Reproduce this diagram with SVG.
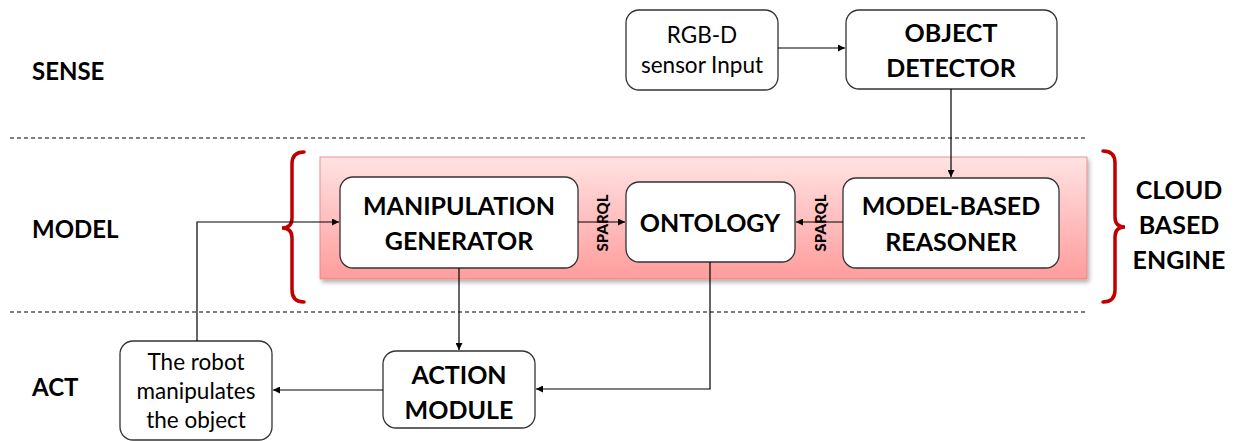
<svg xmlns="http://www.w3.org/2000/svg" width="1237" height="441" viewBox="0 0 1237 441">
<defs>
<linearGradient id="pink" x1="0" y1="0" x2="0" y2="1">
<stop offset="0" stop-color="#FFE3E3"/>
<stop offset="1" stop-color="#FF9C9C"/>
</linearGradient>
<filter id="sh" x="-5%" y="-10%" width="110%" height="125%">
<feDropShadow dx="2" dy="3" stdDeviation="2" flood-color="#000" flood-opacity="0.3"/>
</filter>
<marker id="ah" viewBox="0 0 10 10" refX="10" refY="5" markerWidth="7" markerHeight="7" orient="auto" markerUnits="userSpaceOnUse">
<path d="M0,0 L10,5 L0,10 z" fill="#000"/>
</marker>
</defs>
<style>
.box{fill:#fff;stroke:#333;stroke-width:1.3}
.b{font-family:Lato,"Liberation Sans",sans-serif;font-weight:bold;font-size:25px;fill:#000;text-anchor:middle}
.n{font-family:Lato,"Liberation Sans",sans-serif;font-size:22.5px;fill:#000;text-anchor:middle}
.lbl{font-family:Lato,"Liberation Sans",sans-serif;font-weight:bold;font-size:24px;fill:#000}
.sq{font-family:Lato,"Liberation Sans",sans-serif;font-weight:900;font-size:15px;fill:#000;text-anchor:middle}
.c{fill:none;stroke:#000;stroke-width:1.2}
.dash{stroke:#000;stroke-width:1.2;stroke-dasharray:4 3}
.br{fill:none;stroke:#C00000;stroke-width:3.5;stroke-linecap:round}
</style>
<rect width="1237" height="441" fill="#fff"/>
<g id="layers">
<text class="lbl" x="32" y="80">SENSE</text>
<text class="lbl" x="32" y="238">MODEL</text>
<text class="lbl" x="32" y="396">ACT</text>
<line class="dash" x1="10" y1="138" x2="1085" y2="138"/>
<line class="dash" x1="10" y1="312" x2="1085" y2="312"/>
</g>
<g id="cloud">
<rect x="320" y="157" width="767" height="122" fill="url(#pink)" stroke="#E08080" stroke-width="0.8" filter="url(#sh)"/>
<path class="br" d="M304,152 Q292,152 292,164 L292,218 Q292,228 282,228 Q292,228 292,238 L292,290 Q292,302 304,302"/>
<path class="br" d="M1103,151 Q1115,151 1115,163 L1115,217 Q1115,227 1125,227 Q1115,227 1115,237 L1115,290 Q1115,302 1103,302"/>
<text class="b" x="1179" y="199">CLOUD</text>
<text class="b" x="1179" y="234">BASED</text>
<text class="b" x="1179" y="269">ENGINE</text>
</g>
<g id="rgbd">
<rect class="box" x="626" y="10" width="152" height="80" rx="13"/>
<text class="n" x="702" y="43">RGB-D</text>
<text class="n" x="702" y="73">sensor Input</text>
</g>
<g id="detector">
<rect class="box" x="846" y="10" width="211" height="79" rx="13"/>
<text class="b" x="951" y="42">OBJECT</text>
<text class="b" x="951" y="77">DETECTOR</text>
</g>
<g id="manip">
<rect class="box" x="340" y="177" width="238" height="91" rx="13"/>
<text class="b" x="459" y="215">MANIPULATION</text>
<text class="b" x="459" y="250">GENERATOR</text>
</g>
<g id="ontology">
<rect class="box" x="626" y="182" width="169" height="80" rx="13"/>
<text class="b" x="710" y="232">ONTOLOGY</text>
</g>
<g id="reasoner">
<rect class="box" x="843" y="178" width="216" height="90" rx="13"/>
<text class="b" x="951" y="215">MODEL-BASED</text>
<text class="b" x="951" y="251">REASONER</text>
</g>
<g id="action">
<rect class="box" x="383" y="351" width="152" height="77" rx="13"/>
<text class="b" x="459" y="384">ACTION</text>
<text class="b" x="459" y="419">MODULE</text>
</g>
<g id="robot">
<rect class="box" x="120" y="341" width="152" height="99" rx="13"/>
<text class="n" x="196" y="370">The robot</text>
<text class="n" x="196" y="399">manipulates</text>
<text class="n" x="196" y="428">the object</text>
</g>
<g id="connectors">
<line class="c" x1="778" y1="48" x2="845" y2="48" marker-end="url(#ah)"/>
<line class="c" x1="951" y1="89" x2="951" y2="177" marker-end="url(#ah)"/>
<line class="c" x1="578" y1="222" x2="625" y2="222" marker-end="url(#ah)"/>
<line class="c" x1="843" y1="222" x2="796" y2="222" marker-end="url(#ah)"/>
<line class="c" x1="459" y1="268" x2="459" y2="350" marker-end="url(#ah)"/>
<polyline class="c" points="710,262 710,389 536,389" marker-end="url(#ah)"/>
<line class="c" x1="383" y1="390" x2="273" y2="390" marker-end="url(#ah)"/>
<polyline class="c" points="197,341 197,222 339,222" marker-end="url(#ah)"/>
<text class="sq" transform="translate(608,223) rotate(-90)">SPARQL</text>
<text class="sq" transform="translate(826,223) rotate(-90)">SPARQL</text>
</g>
</svg>
